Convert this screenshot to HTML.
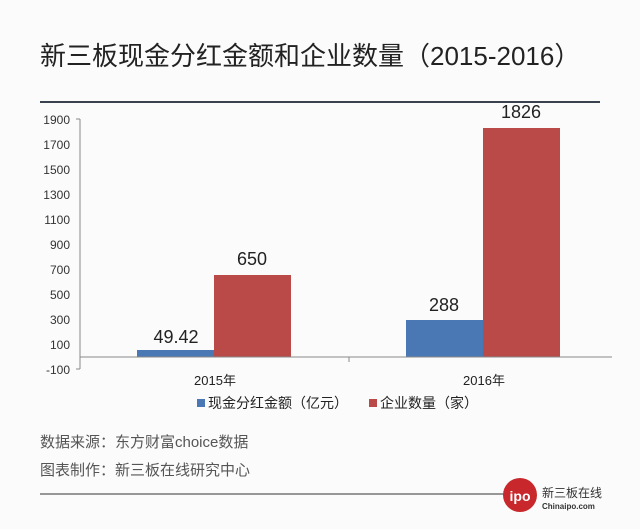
<!DOCTYPE html><html><head><meta charset="utf-8"><style>
body{margin:0;width:640px;height:529px;background:#fbfbfb;position:relative;overflow:hidden;font-family:"Liberation Sans","Noto Sans CJK SC",sans-serif;color:#333}
.a{position:absolute;white-space:nowrap}
</style></head><body>
<div class="a" style="left:40px;top:36px;font-size:26px;color:#222">新三板现金分红金额和企业数量（2015-2016）</div>
<div class="a" style="left:40px;top:101px;width:560px;height:2px;background:#3a4250"></div>
<svg class="a" style="left:0;top:0" width="640" height="529">
<g font-size="12" fill="#333" text-anchor="end" font-family="Liberation Sans,sans-serif">
<text x="70" y="124">1900</text><text x="70" y="149">1700</text><text x="70" y="174">1500</text><text x="70" y="199">1300</text><text x="70" y="224">1100</text><text x="70" y="249">900</text><text x="70" y="274">700</text><text x="70" y="299">500</text><text x="70" y="324">300</text><text x="70" y="349">100</text><text x="70" y="374">-100</text>
</g>
<line x1="80" y1="119" x2="80" y2="369" stroke="#888"/>
<g stroke="#888"><line x1="76" y1="119" x2="80" y2="119"/><line x1="76" y1="369" x2="80" y2="369"/></g>
<rect x="137" y="350" width="77" height="7" fill="#4a78b5"/>
<rect x="214" y="275" width="77" height="82" fill="#b94a48"/>
<rect x="406" y="320" width="77" height="37" fill="#4a78b5"/>
<rect x="483" y="128" width="77" height="229" fill="#b94a48"/>
<line x1="80" y1="357" x2="612" y2="357" stroke="#888"/>
<line x1="349" y1="357" x2="349" y2="362" stroke="#888"/>
<g font-size="18" fill="#222" text-anchor="middle">
<text x="176" y="343">49.42</text><text x="252" y="265">650</text><text x="444" y="311">288</text><text x="521" y="118">1826</text>
</g>
<g font-size="13" fill="#222" text-anchor="middle" font-family="Liberation Sans,Noto Sans CJK SC,sans-serif">
<text x="215" y="385">2015年</text><text x="484" y="385">2016年</text>
</g>
<rect x="197" y="399" width="8" height="8" fill="#4a78b5"/>
<rect x="369" y="399" width="8" height="8" fill="#b94a48"/>
<g font-size="14" fill="#222" font-family="Liberation Sans,Noto Sans CJK SC,sans-serif">
<text x="208" y="408">现金分红金额（亿元）</text><text x="380" y="408">企业数量（家）</text>
</g>
<line x1="40" y1="494" x2="510" y2="494" stroke="#333"/>
<circle cx="520" cy="495" r="17" fill="#c8282c"/>
<text x="520" y="501" font-size="14" fill="#fff" text-anchor="middle" font-weight="bold">ipo</text>
<text x="542" y="497" font-size="12" fill="#333" font-family="Noto Sans CJK SC,sans-serif">新三板在线</text>
<text x="542" y="509" font-size="8" fill="#333" font-weight="bold">Chinaipo.com</text>
</svg>
<div class="a" style="left:40px;top:431px;font-size:15px;color:#555">数据来源：东方财富choice数据</div>
<div class="a" style="left:40px;top:459px;font-size:15px;color:#555">图表制作：新三板在线研究中心</div>
</body></html>
